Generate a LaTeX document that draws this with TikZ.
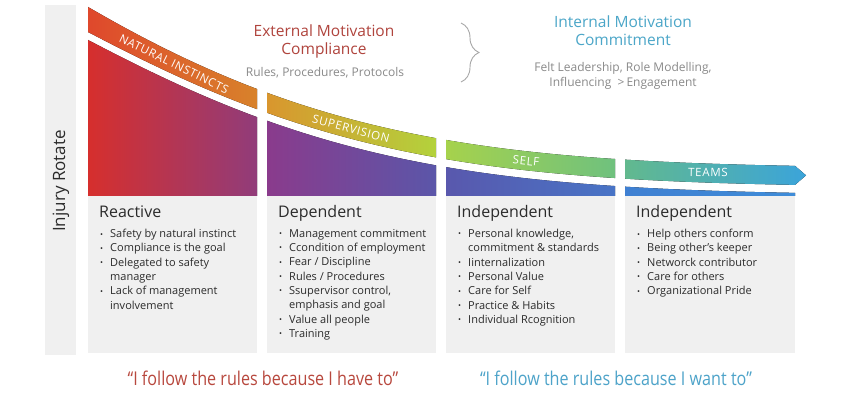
\documentclass[tikz,border=0pt]{standalone}
\usepackage{fontspec}
\setmainfont{Open Sans}
\usetikzlibrary{decorations.pathreplacing}
\definecolor{boxgray}{HTML}{F0F0F0}
\definecolor{darktext}{HTML}{2B2B2B}
\definecolor{subgray}{HTML}{8A8A8A}
\definecolor{headred}{HTML}{B0443D}
\definecolor{headblue}{HTML}{4BA6C8}
\definecolor{quotered}{HTML}{B8483E}
\definecolor{quoteblue}{HTML}{4DA3C9}
\definecolor{braceg}{HTML}{A8A8A8}
\definecolor{bandAL}{HTML}{DF482C}\definecolor{bandAR}{HTML}{D8822B}
\definecolor{bandBL}{HTML}{D9962E}\definecolor{bandBR}{HTML}{B3D23C}
\definecolor{bandCL}{HTML}{A6D24C}\definecolor{bandCR}{HTML}{6FC17E}
\definecolor{bandDL}{HTML}{62B98E}\definecolor{bandDR}{HTML}{3BA4DA}
\definecolor{areaAL}{HTML}{D62F2D}\definecolor{areaAR}{HTML}{913C7A}
\definecolor{areaBL}{HTML}{8A3B8C}\definecolor{areaBR}{HTML}{5B56A9}
\definecolor{areaCL}{HTML}{5958AD}\definecolor{areaCR}{HTML}{4874C6}
\definecolor{areaDL}{HTML}{3F80D2}\definecolor{areaDR}{HTML}{3F8CD8}
\newcommand{\bul}{\makebox[10pt][l]{\fontsize{8}{8}\selectfont\raisebox{0.6pt}{•}}}
\newcommand{\cont}{\hspace*{10pt}}
\begin{document}
\begin{tikzpicture}[x=1pt,y=-1pt,
  declare function={fcurve(\x)=168-161*exp(-(0.362*((\x-88)/100)+0.0352*((\x-88)/100)^2));
                    bthick(\x)=19+6*exp(-(\x-88)/100);},
  colbox/.style={fill=boxgray},
  bandlabel/.style={text=white, font=\fontsize{11.5}{13}\selectfont\addfontfeature{LetterSpace=6}, inner sep=0pt},
  coltitle/.style={anchor=base west, inner sep=0pt, text=darktext, font=\fontsize{16}{19}\selectfont},
  collist/.style={anchor=north west, inner sep=0pt, align=left, text=darktext, font=\fontsize{11}{14.3}\selectfont},
  heading/.style={inner sep=0pt, align=center, font=\fontsize{15.5}{18}\selectfont},
  subhead/.style={inner sep=0pt, align=center, text=subgray, font=\fontsize{12}{15}\selectfont},
  quotetext/.style={inner sep=0pt, font=\fontsize{19}{22}\selectfont}
]
\useasboundingbox (0,0) rectangle (850,411);
\fill[white] (0,0) rectangle (850,411);

% left bar
\fill[boxgray] (45,5) rectangle (76,355);
\node[rotate=90, inner sep=0pt, text=darktext, font=\fontsize{17}{20}\selectfont] (injury) at (61,181) {Injury Rotate};

% grey column boxes
\fill[colbox] (88,196) rectangle (257,353);
\fill[colbox] (267,196) rectangle (436,353);
\fill[colbox] (446,196) rectangle (615,353);
\fill[colbox] (625,196) rectangle (795,353);

% bands
\fill[left color=bandAL, right color=bandAR] plot[domain=88:257, samples=40] (\x,{fcurve(\x)}) -- plot[domain=257:88, samples=40] (\x,{fcurve(\x)+bthick(\x)}) -- cycle;
\fill[left color=bandBL, right color=bandBR] plot[domain=267:436, samples=40] (\x,{fcurve(\x)}) -- plot[domain=436:267, samples=40] (\x,{fcurve(\x)+bthick(\x)}) -- cycle;
\fill[left color=bandCL, right color=bandCR] plot[domain=446:615, samples=40] (\x,{fcurve(\x)}) -- plot[domain=615:446, samples=40] (\x,{fcurve(\x)+bthick(\x)}) -- cycle;
\fill[left color=bandDL, right color=bandDR] plot[domain=625:795, samples=40] (\x,{fcurve(\x)}) -- (806,{fcurve(795)+bthick(795)/2}) -- plot[domain=795:625, samples=40] (\x,{fcurve(\x)+bthick(\x)}) -- cycle;

% areas
\fill[left color=areaAL, right color=areaAR] plot[domain=88:257, samples=40] (\x,{fcurve(\x)+bthick(\x)+8}) -- (257,196) -- (88,196) -- cycle;
\fill[left color=areaBL, right color=areaBR] plot[domain=267:436, samples=40] (\x,{fcurve(\x)+bthick(\x)+8}) -- (436,196) -- (267,196) -- cycle;
\fill[left color=areaCL, right color=areaCR] plot[domain=446:615, samples=40] (\x,{fcurve(\x)+bthick(\x)+8}) -- (615,196) -- (446,196) -- cycle;
\fill[left color=areaDL, right color=areaDR] plot[domain=625:795, samples=40] (\x,{fcurve(\x)+bthick(\x)+8}) -- (795,196) -- (625,196) -- cycle;

% band labels
\node[bandlabel, rotate=-26] (lnat) at (174,64) {NATURAL INSTINCTS};
\node[bandlabel, rotate=-15] (lsup) at (351,129) {SUPERVISION};
\node[bandlabel, rotate=-6] (lself) at (526,161) {SELF};
\node[bandlabel, rotate=-1] (lteams) at (708,172.5) {TEAMS};

% headings
\node[heading, text=headred] (ext) at (324,41) {External Motivation\\Compliance};
\node[subhead] (rules) at (325,73) {Rules, Procedures, Protocols};
\node[heading, text=headblue] (int) at (623,31) {Internal Motivation\\Commitment};
\node[subhead] (felt) at (623,75.5) {Felt Leadership, Role Modelling,\\Influencing~~>\,Engagement};
\coordinate (bracetop) at (461,23);
\coordinate (bracebot) at (461,82);
\draw[braceg, line width=0.9pt, decorate, decoration={brace, amplitude=18pt}] (bracetop) -- (bracebot);

% column titles
\node[coltitle] (c1t) at (99,218) {Reactive};
\node[coltitle] (c2t) at (278,218) {Dependent};
\node[coltitle] (c3t) at (457,218) {Independent};
\node[coltitle] (c4t) at (636,218) {Independent};

% column lists
\node[collist] (c1l) at (100,229) {\bul Safety by natural instinct\\\bul Compliance is the goal\\\bul Delegated to safety\\\cont manager\\\bul Lack of management\\\cont involvement};
\node[collist] (c2l) at (279,229) {\bul Management commitment\\\bul Ccondition of employment\\\bul Fear / Discipline\\\bul Rules / Procedures\\\bul Ssupervisor control,\\\cont emphasis and goal\\\bul Value all people\\\bul Training};
\node[collist] (c3l) at (458,229) {\bul Personal knowledge,\\\cont commitment \& standards\\\bul Iinternalization\\\bul Personal Value\\\bul Care for Self\\\bul Practice \& Habits\\\bul Individual Rcognition};
\node[collist] (c4l) at (637,229) {\bul Help others conform\\\bul Being other’s keeper\\\bul Networck contributor\\\bul Care for others\\\bul Organizational Pride};

% quotes
\node[quotetext, text=quotered] (q1) at (263,378) {\scalebox{0.85}[1]{“I follow the rules because I have to”}};
\node[quotetext, text=quoteblue] (q2) at (616,378) {\scalebox{0.85}[1]{“I follow the rules because I want to”}};
\end{tikzpicture}
\end{document}
